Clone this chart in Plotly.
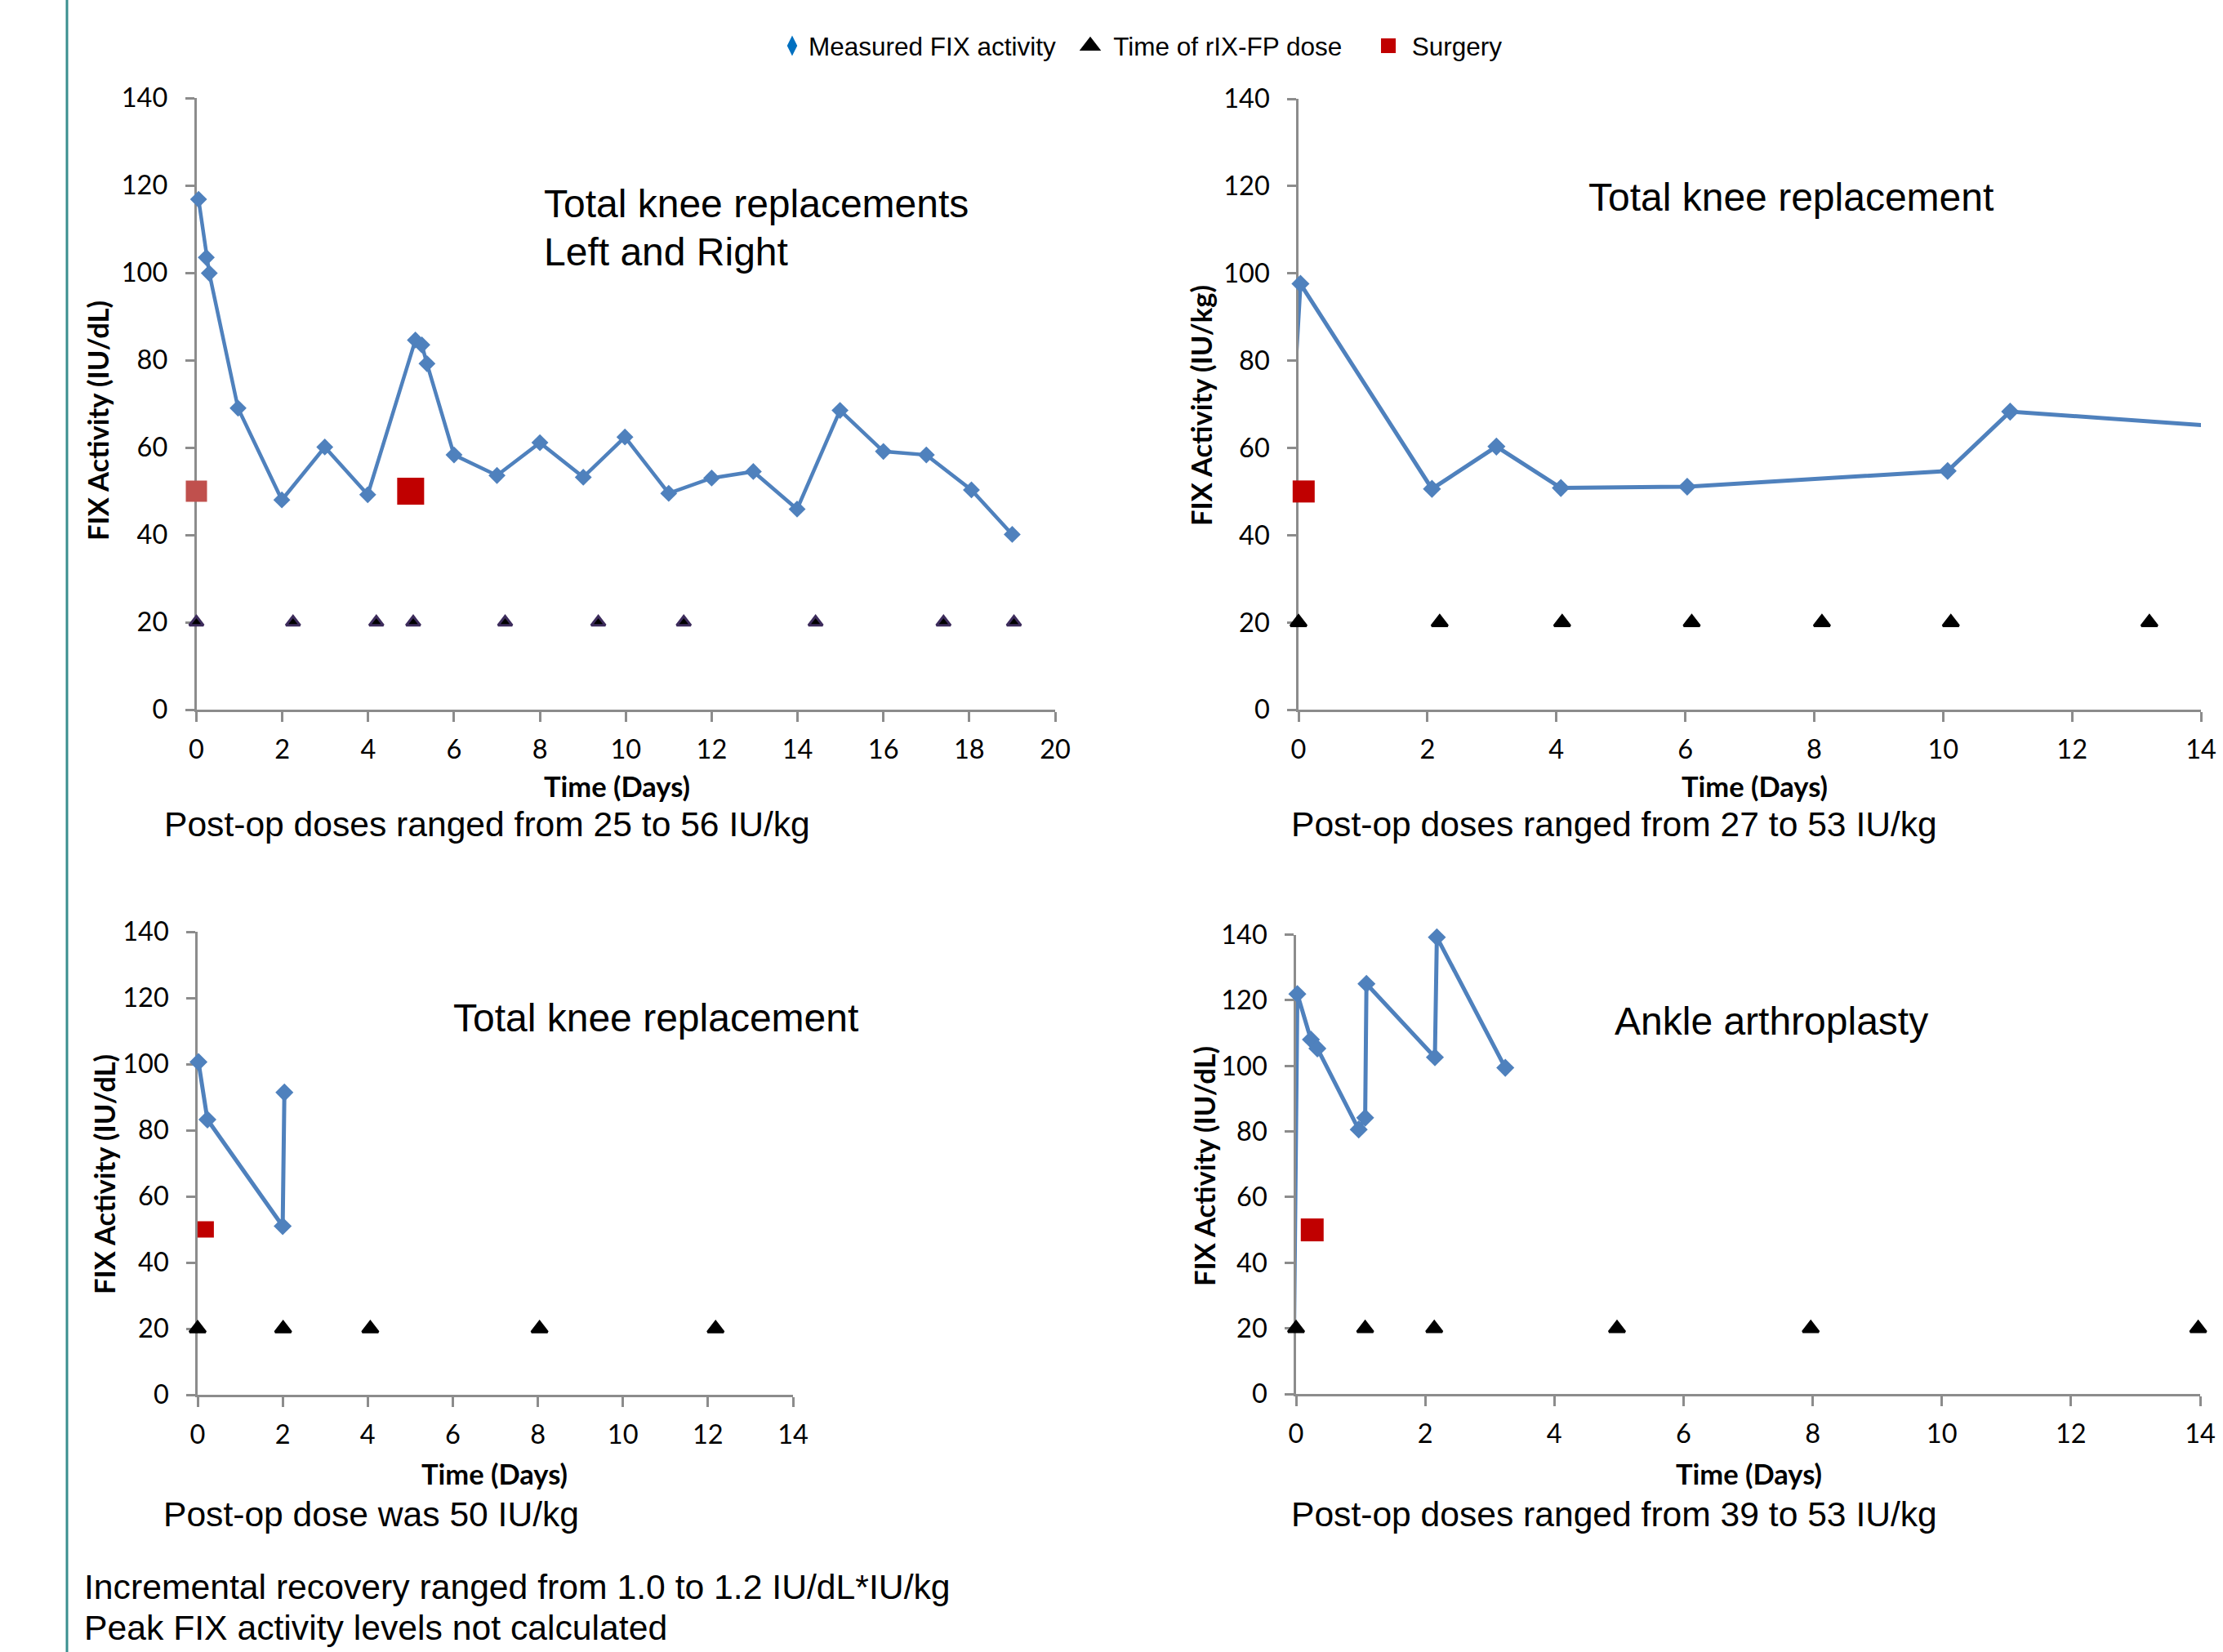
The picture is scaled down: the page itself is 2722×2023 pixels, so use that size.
import plotly.graph_objects as go

W, H = 2722, 2023

# ---------------- data ----------------
# Panel 1: Total knee replacements, Left and Right (0-20 days)
p1_fix_x = [0.05, 0.23, 0.30, 0.97, 1.99, 2.99, 3.99, 5.10, 5.25, 5.37, 6.00, 7.00,
            8.00, 9.01, 9.98, 11.00, 12.00, 12.97, 13.99, 14.99, 16.00, 17.00, 18.05, 19.00]
p1_fix_y = [116.8, 103.5, 99.9, 69.0, 48.0, 60.1, 49.2, 84.6, 83.5, 79.2, 58.3, 53.6,
            61.1, 53.2, 62.4, 49.5, 53.0, 54.5, 45.9, 68.5, 59.1, 58.3, 50.3, 40.1]
p1_dose_x = [0, 2.25, 4.19, 5.05, 7.19, 9.36, 11.35, 14.42, 17.40, 19.04]
p1_dose_y = [20] * len(p1_dose_x)
p1_surg_x = [0, 4.99]
p1_surg_y = [50, 50]

# Panel 2: Total knee replacement (0-14 days)
p2_fix_x = [-0.35, 0.03, 2.07, 3.07, 4.07, 6.03, 10.07, 11.04, 15.0]
p2_fix_y = [2.0, 97.6, 50.6, 60.3, 50.8, 51.1, 54.7, 68.3, 64.2]
p2_dose_x = [0, 2.19, 4.09, 6.10, 8.12, 10.12, 13.20]
p2_dose_y = [20] * len(p2_dose_x)
p2_surg_x = [0.08]
p2_surg_y = [50]

# Panel 3: Total knee replacement (0-14 days)
p3_fix_x = [0.02, 0.23, 2.00, 2.04]
p3_fix_y = [100.6, 83.2, 51.0, 91.4]
p3_dose_x = [0, 2.01, 4.06, 8.04, 12.18]
p3_dose_y = [20] * len(p3_dose_x)
p3_surg_x = [0.19]
p3_surg_y = [50]

# Panel 4: Ankle arthroplasty (0-14 days)
p4_fix_x = [-0.04, 0.02, 0.23, 0.33, 0.97, 1.07, 1.09, 2.15, 2.18, 3.24]
p4_fix_y = [2.0, 121.9, 108.0, 105.3, 80.6, 84.2, 125.0, 102.6, 139.2, 99.4]
p4_dose_x = [0, 1.07, 2.14, 4.97, 7.97, 13.97]
p4_dose_y = [20] * len(p4_dose_x)
p4_surg_x = [0.25]
p4_surg_y = [50]

x_max = [20, 14, 14, 14]
y_ticks = [0, 20, 40, 60, 80, 100, 120, 140]

titles = [["Total knee replacements", "Left and Right"], ["Total knee replacement"],
          ["Total knee replacement"], ["Ankle arthroplasty"]]
y_titles = ["FIX Activity (IU/dL)", "FIX Activity (IU/kg)", "FIX Activity (IU/dL)", "FIX Activity (IU/dL)"]
x_title = "Time (Days)"
notes = ["Post-op doses ranged from 25 to 56 IU/kg", "Post-op doses ranged from 27 to 53 IU/kg",
         "Post-op dose was 50 IU/kg", "Post-op doses ranged from 39 to 53 IU/kg"]
footer = ["Incremental recovery ranged from 1.0 to 1.2 IU/dL*IU/kg",
          "Peak FIX activity levels not calculated"]
legend_names = ["Measured FIX activity", "Time of rIX-FP dose", "Surgery"]

# ---------------- layout helpers (pixel geometry) ----------------
def px_x(v):
    return v / W

def px_y(v):
    return 1 - v / H

# plot areas: (left, right, top(140), bottom(0)) in pixels
areas = [(240.5, 1292, 120, 869), (1590, 2695, 121, 869),
         (242, 971, 1141, 1708), (1587, 2694, 1144.5, 1707)]

BLUE = "#4F81BD"
panels = [
    dict(fx=p1_fix_x, fy=p1_fix_y, dx=p1_dose_x, dy=p1_dose_y, sx=p1_surg_x, sy=p1_surg_y,
         dsize=16, tsize=15, tlw=3, ssize=[26, 33], scol=["#C0504D", "#C00000"], tline="#3D2C5C", lw=4.5),
    dict(fx=p2_fix_x, fy=p2_fix_y, dx=p2_dose_x, dy=p2_dose_y, sx=p2_surg_x, sy=p2_surg_y,
         dsize=17, tsize=17, tlw=3, ssize=[27], scol=["#C00000"], tline="black", lw=5),
    dict(fx=p3_fix_x, fy=p3_fix_y, dx=p3_dose_x, dy=p3_dose_y, sx=p3_surg_x, sy=p3_surg_y,
         dsize=17, tsize=17, tlw=3, ssize=[20], scol=["#C00000"], tline="black", lw=5),
    dict(fx=p4_fix_x, fy=p4_fix_y, dx=p4_dose_x, dy=p4_dose_y, sx=p4_surg_x, sy=p4_surg_y,
         dsize=17, tsize=17, tlw=3, ssize=[28], scol=["#C00000"], tline="black", lw=5),
]

fig = go.Figure()
layout = dict(width=W, height=H, margin=dict(l=0, r=0, t=0, b=0, pad=0, autoexpand=False),
              paper_bgcolor="white", plot_bgcolor="white", showlegend=True)

AXC = "#8C8C8C"
for i, (p, (l, r, t, b)) in enumerate(zip(panels, areas)):
    n = "" if i == 0 else str(i + 1)
    xa, ya = "x" + n, "y" + n
    xm = x_max[i]
    msize = [p["dsize"] if 0 <= xv <= xm else 0 for xv in p["fx"]]
    fig.add_trace(go.Scatter(x=p["fx"], y=p["fy"], mode="lines+markers", xaxis=xa, yaxis=ya,
                             line=dict(color=BLUE, width=p["lw"]),
                             marker=dict(symbol="diamond", size=msize, color=BLUE, opacity=1,
                                         line=dict(width=0)),
                             cliponaxis=False, showlegend=False, hoverinfo="skip"))
    fig.add_trace(go.Scatter(x=p["dx"], y=p["dy"], mode="markers", xaxis=xa, yaxis=ya,
                             marker=dict(symbol="triangle-up", size=p["tsize"], color="black", opacity=1,
                                         line=dict(color=p["tline"], width=p["tlw"])),
                             cliponaxis=False, showlegend=False, hoverinfo="skip"))
    fig.add_trace(go.Scatter(x=p["sx"], y=p["sy"], mode="markers", xaxis=xa, yaxis=ya,
                             marker=dict(symbol="square", size=p["ssize"], color=p["scol"], opacity=1,
                                         line=dict(width=0)),
                             cliponaxis=False, showlegend=False, hoverinfo="skip"))
    common = dict(showline=True, linecolor=AXC, linewidth=2.5, ticks="outside", tickcolor=AXC,
                  tickwidth=2.5, showgrid=False, zeroline=False, layer="below traces", automargin=False,
                  tickfont=dict(family="Lato", size=32.5, color="black"))
    layout["xaxis" + n] = dict(common, domain=[px_x(l), px_x(r)], range=[0, xm], dtick=2, tick0=0,
                               ticklen=12, anchor=ya, ticklabelstandoff=6)
    layout["yaxis" + n] = dict(common, domain=[px_y(b), px_y(t)], range=[0, 140],
                               tickvals=y_ticks, ticklen=11, anchor=xa, ticklabelstandoff=15)

# legend entries (a small lead-in space after the triangle and square symbols)
fig.add_trace(go.Scatter(x=[None], y=[None], mode="markers", name=legend_names[0],
                         marker=dict(symbol="diamond-tall", size=13, color="#0070C0",
                                     line=dict(color="#0070C0", width=3))))
fig.add_trace(go.Scatter(x=[None], y=[None], mode="markers", name=" " + legend_names[1],
                         marker=dict(symbol="triangle-up", size=16, color="black",
                                     line=dict(color="black", width=4))))
fig.add_trace(go.Scatter(x=[None], y=[None], mode="markers", name=" " + legend_names[2],
                         marker=dict(symbol="square", size=16, color="#C00000",
                                     line=dict(color="#C00000", width=2))))

layout["legend"] = dict(orientation="h", x=px_x(950), y=px_y(56), xanchor="left", yanchor="middle",
                        font=dict(family="Liberation Sans", size=31.5, color="black"),
                        bgcolor="rgba(0,0,0,0)", entrywidth=320, entrywidthmode="pixels",
                        borderwidth=0)

ann = []
ARIAL = "Liberation Sans"
# panel titles (left x, center y of each line)
title_pos = [[(664, 249), (664, 308)], [(1943, 241)], [(553, 1246)], [(1975, 1250)]]
for lines, poss in zip(titles, title_pos):
    for txt, (xx, yy) in zip(lines, poss):
        ann.append(dict(text=txt, x=px_x(xx), y=px_y(yy), xref="paper", yref="paper",
                        xanchor="left", yanchor="middle", showarrow=False,
                        font=dict(family=ARIAL, size=48, color="black")))
# y axis titles
ytitle_pos = [(119, 515), (1470, 497), (127, 1438), (1474, 1428)]
for txt, (xx, yy) in zip(y_titles, ytitle_pos):
    ann.append(dict(text="<b>" + txt + "</b>", x=px_x(xx), y=px_y(yy), xref="paper", yref="paper",
                    xanchor="center", yanchor="middle", textangle=-90, showarrow=False,
                    font=dict(family="Lato", size=34.5, color="black")))
# x axis titles
xtitle_pos = [(756, 962), (2148, 962), (605, 1804), (2141, 1804)]
for (xx, yy) in xtitle_pos:
    ann.append(dict(text="<b>" + x_title + "</b>", x=px_x(xx), y=px_y(yy), xref="paper", yref="paper",
                    xanchor="center", yanchor="middle", showarrow=False,
                    font=dict(family="Lato", size=34.5, color="black")))
# notes under each panel
note_pos = [(199, 1009), (1579, 1009), (198, 1854), (1579, 1854)]
for txt, (xx, yy) in zip(notes, note_pos):
    ann.append(dict(text=txt, x=px_x(xx), y=px_y(yy), xref="paper", yref="paper",
                    xanchor="left", yanchor="middle", showarrow=False,
                    font=dict(family=ARIAL, size=42.6, color="black")))
footer_pos = [(101, 1943), (101, 1993)]
for txt, (xx, yy) in zip(footer, footer_pos):
    ann.append(dict(text=txt, x=px_x(xx), y=px_y(yy), xref="paper", yref="paper",
                    xanchor="left", yanchor="middle", showarrow=False,
                    font=dict(family=ARIAL, size=42.7, color="black")))
layout["annotations"] = ann

layout["shapes"] = [
    dict(type="line", xref="paper", yref="paper", x0=px_x(82), x1=px_x(82), y0=0, y1=1,
         line=dict(color="#3A8F8F", width=3)),
]

fig.update_layout(**layout)
fig.write_html(
    "out.html",
    config={"displayModeBar": False},
    post_script="document.documentElement.style.margin='0';document.body.style.margin='0';"
                "document.body.style.padding='0';document.documentElement.style.overflow='hidden';"
                "document.body.style.overflow='hidden';",
)
